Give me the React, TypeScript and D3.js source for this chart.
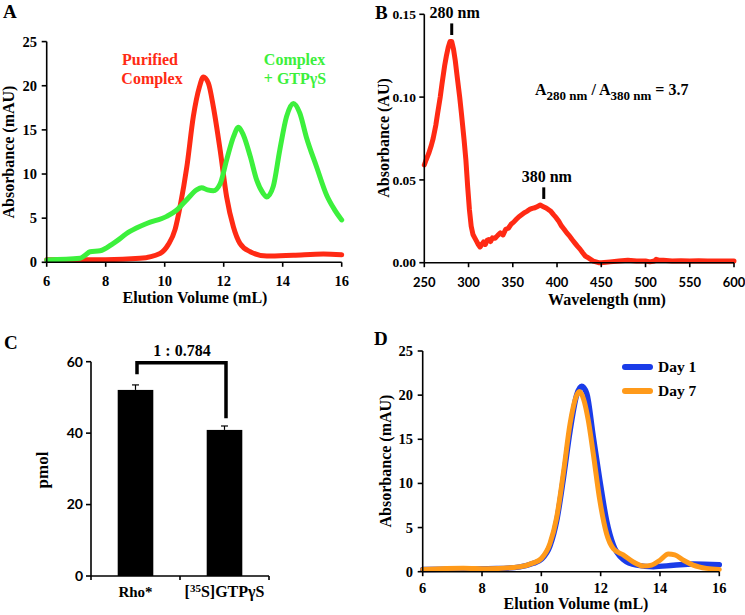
import React from "react";
import * as d3 from "d3";

const SERIF = "'Liberation Serif','Times New Roman',Times,serif";
const SANS = "Lato,'Open Sans',sans-serif";

// ---------- Panel A : size-exclusion chromatography ----------
const aPurified: [number, number][] = [
  [6, 0.3], [7, 0.3], [8, 0.3], [9.16, 0.45], [9.84, 1.0], [10.12, 2.0], [10.35, 3.7],
  [10.52, 6.3], [10.75, 10.8], [10.97, 16.5], [11.18, 19.9], [11.31, 21.0], [11.48, 20.3],
  [11.65, 17.6], [11.88, 12.7], [12.1, 7.4], [12.33, 4.0], [12.55, 2.15], [12.9, 1.2],
  [13.46, 0.7], [14.36, 0.8], [15.38, 0.95], [16, 0.85],
];
const aGtp: [number, number][] = [
  [6, 0.26], [7.13, 0.45], [7.3, 0.8], [7.47, 1.2], [7.81, 1.3], [8.26, 2.15], [8.82, 3.5],
  [9.39, 4.4], [10.07, 5.2], [10.4, 5.9], [10.75, 7.1], [11.08, 8.2], [11.25, 8.45],
  [11.45, 8.2], [11.65, 8.1], [11.88, 8.9], [12.1, 11.6], [12.33, 14.2], [12.5, 15.3],
  [12.67, 14.4], [12.9, 12.0], [13.12, 9.3], [13.34, 7.8], [13.46, 7.4], [13.68, 8.6],
  [13.9, 12.7], [14.13, 16.5], [14.36, 18.0], [14.58, 16.9], [14.8, 14.2], [15.15, 10.8],
  [15.49, 7.6], [15.75, 6.0], [16, 4.8],
];
const aXTicks = [6, 8, 10, 12, 14, 16];
const aYTicks = [0, 5, 10, 15, 20, 25];

// ---------- Panel B : absorbance spectrum ----------
const bSpectrum: [number, number][] = [
  [250, 0.059], [252, 0.062], [255, 0.066], [258, 0.071], [260, 0.075], [263, 0.083],
  [265, 0.09], [268, 0.1], [270, 0.108], [273, 0.119], [275, 0.125], [277, 0.13],
  [279, 0.1335], [281, 0.1335], [283, 0.129], [285, 0.122], [287, 0.113], [290, 0.1],
  [292, 0.09], [295, 0.074], [297, 0.062], [299, 0.046], [301, 0.032], [303, 0.022],
  [305, 0.017], [307, 0.015], [309, 0.013], [311, 0.011], [313, 0.0095], [315, 0.011],
  [317, 0.0125], [319, 0.011], [321, 0.0135], [323, 0.014], [325, 0.0128], [327, 0.015],
  [330, 0.0148], [333, 0.0165], [336, 0.018], [339, 0.0168], [342, 0.0202], [345, 0.0208],
  [348, 0.0232], [351, 0.0245], [354, 0.0262], [357, 0.0278], [360, 0.029], [363, 0.0302],
  [366, 0.031], [369, 0.0322], [372, 0.0328], [375, 0.0332], [378, 0.034], [381, 0.0348],
  [384, 0.034], [387, 0.0332], [390, 0.0322], [393, 0.031], [396, 0.029], [399, 0.0272],
  [402, 0.025], [405, 0.0222], [408, 0.0202], [411, 0.018], [414, 0.0162], [417, 0.014],
  [420, 0.012], [423, 0.01], [426, 0.0082], [429, 0.006], [432, 0.004], [435, 0.003],
  [438, 0.002], [441, 0.001], [444, 0.0005], [447, 0.0], [450, 0.0], [460, 0.0005],
  [470, 0.001], [480, 0.0015], [490, 0.001], [500, 0.001], [505, 0.0005], [510, 0.001],
  [512, 0.002], [515, 0.0015], [520, 0.0015], [530, 0.001], [540, 0.0012], [550, 0.001],
  [560, 0.0012], [570, 0.001], [580, 0.001], [590, 0.001], [600, 0.001],
];
const bXTicks = [250, 300, 350, 400, 450, 500, 550, 600];
const bYTicks = [0, 0.05, 0.1, 0.15];
const bPeakLabels = ["280 nm", "380 nm"];
const bPeakWavelengths = [281, 385];
const bPeakMarkTops = [0.1445, 0.0455];
const bPeakMarkBottoms = [0.1375, 0.0385];
const bPeakTextLevels = [0.1476, 0.0489];

// ---------- Panel C : bar chart ----------
const cCategories = ["Rho*", "[35S]GTPγS"];
const cValues = [52.1, 40.9];
const cErrors = [1.4, 1.1];
const cYTicks = [0, 20, 40, 60];
const cRatioLabel = "1 : 0.784";
const cBracketLevels = [56.5, 59.7, 44.2]; // left foot, top, right foot

// ---------- Panel D : chromatography, day 1 vs day 7 ----------
const dDay1: [number, number][] = [
  [6, 0.26], [7.5, 0.3], [8.5, 0.35], [9.28, 0.55], [9.73, 0.95], [10.0, 1.4], [10.29, 2.9],
  [10.52, 5.8], [10.74, 10.5], [10.97, 16.0], [11.19, 20.0], [11.36, 21.0], [11.53, 20.2],
  [11.75, 15.3], [11.97, 10.4], [12.2, 5.8], [12.43, 3.0], [12.76, 1.4], [13.21, 0.75],
  [13.78, 0.57], [14.45, 0.72], [15.12, 0.87], [16, 0.8],
];
const dDay7: [number, number][] = [
  [6, 0.26], [7.37, 0.4], [8.16, 0.34], [9.28, 0.57], [9.73, 1.0], [10.0, 1.5], [10.29, 3.2],
  [10.52, 6.2], [10.74, 11.1], [10.97, 16.8], [11.17, 19.8], [11.28, 20.4], [11.42, 19.6],
  [11.58, 17.2], [11.75, 13.4], [11.97, 8.1], [12.2, 4.3], [12.43, 2.6], [12.76, 1.9],
  [13.1, 1.1], [13.44, 0.64], [13.72, 0.75], [14.0, 1.3], [14.28, 2.0], [14.5, 1.9],
  [14.79, 1.3], [15.12, 0.75], [15.57, 0.38], [16, 0.26],
];
const dSeriesNames = ["Day 1", "Day 7"];
const dXTicks = [6, 8, 10, 12, 14, 16];
const dYTicks = [0, 5, 10, 15, 20, 25];

const RED = "#ff2a14";
const GREEN = "#3cf03c";
const BLUE = "#1a3ce8";
const ORANGE = "#ff9a1a";

type Pt = [number, number];

function Axes(props: {
  x: d3.ScaleLinear<number, number>;
  y: d3.ScaleLinear<number, number>;
  xTicks: number[];
  yTicks: number[];
  xFmt: (v: number) => string;
  yFmt: (v: number) => string;
  xFont: string;
  yFont: string;
  xSize: number;
  ySize: number;
  xLabelY: number;
  yLabelX: number;
}) {
  const { x, y, xTicks, yTicks } = props;
  const [x0, x1] = x.range();
  const [y0, y1] = y.range();
  return (
    <g>
      <line x1={x0} x2={x1} y1={y0} y2={y0} stroke="#000" strokeWidth={1.6} />
      <line x1={x0} x2={x0} y1={y0} y2={y1} stroke="#000" strokeWidth={1.6} />
      {xTicks.map((t) => (
        <g key={"x" + t}>
          <line x1={x(t)} x2={x(t)} y1={y0} y2={y0 + 4.5} stroke="#000" strokeWidth={1.6} />
          <text x={x(t)} y={props.xLabelY} textAnchor="middle" fontFamily={props.xFont}
            fontWeight="bold" fontSize={props.xSize}>{props.xFmt(t)}</text>
        </g>
      ))}
      {yTicks.map((t) => (
        <g key={"y" + t}>
          <line x1={x0 - 5} x2={x0} y1={y(t)} y2={y(t)} stroke="#000" strokeWidth={1.6} />
          <text x={props.yLabelX} y={y(t)} dy="0.35em" textAnchor="end" fontFamily={props.yFont}
            fontWeight="bold" fontSize={props.ySize}>{props.yFmt(t)}</text>
        </g>
      ))}
    </g>
  );
}

function PanelLetter({ x, y, t }: { x: number; y: number; t: string }) {
  return (
    <text x={x} y={y} fontFamily={SERIF} fontWeight="bold" fontSize={19}>{t}</text>
  );
}

function RotLabel({ x, y, t, size }: { x: number; y: number; t: string; size: number }) {
  return (
    <text transform={`translate(${x},${y}) rotate(-90)`} textAnchor="middle"
      fontFamily={SERIF} fontWeight="bold" fontSize={size}>{t}</text>
  );
}

export default function App() {
  // Panel A
  const ax = d3.scaleLinear().domain([6, 16]).range([46.7, 341.7]);
  const ay = d3.scaleLinear().domain([0, 25]).range([262.3, 41.6]);
  const lineA = d3.line<Pt>().x((d) => ax(d[0])).y((d) => ay(d[1])).curve(d3.curveMonotoneX);

  // Panel B
  const bx = d3.scaleLinear().domain([250, 600]).range([424.3, 734]);
  const by = d3.scaleLinear().domain([0, 0.15]).range([262.7, 14.3]);
  const lineB = d3.line<Pt>().x((d) => bx(d[0])).y((d) => by(d[1]));

  // Panel C
  const cx = d3.scaleBand<string>().domain(cCategories).range([91, 269]).paddingInner(0.6).paddingOuter(0.3);
  const cy = d3.scaleLinear().domain([0, 60]).range([576, 361.7]);
  const cxMid = (c: string) => (cx(c) as number) + cx.bandwidth() / 2;

  // Panel D
  const dx = d3.scaleLinear().domain([6, 16]).range([422.7, 719.3]);
  const dy = d3.scaleLinear().domain([0, 25]).range([571.7, 351]);
  const lineD = d3.line<Pt>().x((d) => dx(d[0])).y((d) => dy(d[1])).curve(d3.curveMonotoneX);

  const intFmt = d3.format("d");
  const b2 = d3.format(".2f");

  const bracketPath = d3.path();
  bracketPath.moveTo(cxMid(cCategories[0]) + 1.5, cy(cBracketLevels[0]));
  bracketPath.lineTo(cxMid(cCategories[0]) + 1.5, cy(cBracketLevels[1]));
  bracketPath.lineTo(cxMid(cCategories[1]) + 1.5, cy(cBracketLevels[1]));
  bracketPath.lineTo(cxMid(cCategories[1]) + 1.5, cy(cBracketLevels[2]));

  return (
    <svg width={745} height={615} viewBox="0 0 745 615"
      style={{ position: "absolute", left: 0, top: 0, background: "#fff" }}>
      <rect width={745} height={615} fill="#fff" />

      {/* ---------------- Panel A ---------------- */}
      <PanelLetter x={3} y={18} t="A" />
      <path d={lineA(aPurified) || ""} fill="none" stroke={RED} strokeWidth={5} strokeLinejoin="round" strokeLinecap="round" />
      <path d={lineA(aGtp) || ""} fill="none" stroke={GREEN} strokeWidth={5} strokeLinejoin="round" strokeLinecap="round" />
      <Axes x={ax} y={ay} xTicks={aXTicks} yTicks={aYTicks} xFmt={intFmt} yFmt={intFmt}
        xFont={SERIF} yFont={SERIF} xSize={14.5} ySize={14.5} xLabelY={286} yLabelX={37} />
      <text x={195} y={303} textAnchor="middle" fontFamily={SERIF} fontWeight="bold" fontSize={16}>Elution Volume (mL)</text>
      <RotLabel x={13.5} y={152} t="Absorbance (mAU)" size={16} />
      <text x={150} y={65} textAnchor="middle" fontFamily={SERIF} fontWeight="bold" fontSize={16} fill={RED}>Purified</text>
      <text x={152} y={84} textAnchor="middle" fontFamily={SERIF} fontWeight="bold" fontSize={16} fill={RED}>Complex</text>
      <text x={294.5} y={65} textAnchor="middle" fontFamily={SERIF} fontWeight="bold" fontSize={16} fill={GREEN}>Complex</text>
      <text x={295} y={84} textAnchor="middle" fontFamily={SERIF} fontWeight="bold" fontSize={16} fill={GREEN}>+ GTPγS</text>

      {/* ---------------- Panel B ---------------- */}
      <PanelLetter x={375} y={19} t="B" />
      <path d={lineB(bSpectrum) || ""} fill="none" stroke={RED} strokeWidth={5} strokeLinejoin="round" strokeLinecap="round" />
      <Axes x={bx} y={by} xTicks={bXTicks} yTicks={bYTicks} xFmt={intFmt} yFmt={b2}
        xFont={SANS} yFont={SERIF} xSize={13} ySize={13.5} xLabelY={287} yLabelX={416} />
      <text x={607} y={305} textAnchor="middle" fontFamily={SERIF} fontWeight="bold" fontSize={16}>Wavelength (nm)</text>
      <RotLabel x={389} y={138} t="Absorbance (AU)" size={16} />
      {bPeakLabels.map((l, i) => (
        <g key={l}>
          <line x1={bx(bPeakWavelengths[i])} x2={bx(bPeakWavelengths[i])} y1={by(bPeakMarkTops[i])}
            y2={by(bPeakMarkBottoms[i])} stroke="#000" strokeWidth={3} />
          <text x={bx(bPeakWavelengths[i]) + 3} y={by(bPeakTextLevels[i])} textAnchor="middle"
            fontFamily={SERIF} fontWeight="bold" fontSize={16}>{l}</text>
        </g>
      ))}
      <text x={535} y={95} fontFamily={SERIF} fontWeight="bold" fontSize={16}>
        A<tspan fontSize={13} dy={5}>280 nm</tspan><tspan dy={-5}> / A</tspan><tspan fontSize={13} dy={5}>380 nm</tspan><tspan dy={-5}> = 3.7</tspan>
      </text>

      {/* ---------------- Panel C ---------------- */}
      <PanelLetter x={4} y={349} t="C" />
      {cCategories.map((c, i) => (
        <g key={c}>
          <rect x={cx(c)} y={cy(cValues[i])} width={cx.bandwidth()} height={cy(0) - cy(cValues[i])} fill="#000" />
          <line x1={cxMid(c)} x2={cxMid(c)} y1={cy(cValues[i])} y2={cy(cValues[i] + cErrors[i])} stroke="#000" strokeWidth={1.2} />
          <line x1={cxMid(c) - 3.5} x2={cxMid(c) + 3.5} y1={cy(cValues[i] + cErrors[i])} y2={cy(cValues[i] + cErrors[i])} stroke="#000" strokeWidth={1.2} />
        </g>
      ))}
      <line x1={91} x2={269} y1={cy(0)} y2={cy(0)} stroke="#000" strokeWidth={1.6} />
      <line x1={91} x2={91} y1={cy(0)} y2={cy(60)} stroke="#000" strokeWidth={1.6} />
      {[91, 180, 269].map((t) => (
        <line key={t} x1={t} x2={t} y1={cy(0)} y2={cy(0) + 4} stroke="#000" strokeWidth={1.6} />
      ))}
      {cYTicks.map((t) => (
        <g key={t}>
          <line x1={86} x2={91} y1={cy(t)} y2={cy(t)} stroke="#000" strokeWidth={1.6} />
          <text x={83} y={cy(t)} dy="0.35em" textAnchor="end" fontFamily={SANS} fontWeight="bold" fontSize={14}>{intFmt(t)}</text>
        </g>
      ))}
      <text x={cxMid(cCategories[0])} y={597} textAnchor="middle" fontFamily={SERIF} fontWeight="bold" fontSize={15}>{cCategories[0]}</text>
      <text x={cxMid(cCategories[1])} y={597} textAnchor="middle" fontFamily={SERIF} fontWeight="bold" fontSize={16}>
        [<tspan fontSize={11} dy={-5}>35</tspan><tspan dy={5}>S]GTPγS</tspan>
      </text>
      <RotLabel x={48} y={470} t="pmol" size={17} />
      <path d={bracketPath.toString()} fill="none" stroke="#000" strokeWidth={3.5} strokeLinejoin="miter" />
      <text x={182} y={356} textAnchor="middle" fontFamily={SERIF} fontWeight="bold" fontSize={16}>{cRatioLabel}</text>

      {/* ---------------- Panel D ---------------- */}
      <PanelLetter x={374} y={345} t="D" />
      <path d={lineD(dDay1) || ""} fill="none" stroke={BLUE} strokeWidth={5.5} strokeLinejoin="round" strokeLinecap="round" />
      <path d={lineD(dDay7) || ""} fill="none" stroke={ORANGE} strokeWidth={5} strokeLinejoin="round" strokeLinecap="round" />
      <Axes x={dx} y={dy} xTicks={dXTicks} yTicks={dYTicks} xFmt={intFmt} yFmt={intFmt}
        xFont={SERIF} yFont={SERIF} xSize={14.5} ySize={14.5} xLabelY={593} yLabelX={413} />
      <text x={576} y={609} textAnchor="middle" fontFamily={SERIF} fontWeight="bold" fontSize={16}>Elution Volume (mL)</text>
      <RotLabel x={391} y={461} t="Absorbance (mAU)" size={16} />
      {dSeriesNames.map((n, i) => (
        <g key={n}>
          <line x1={625} x2={650} y1={367 + i * 24} y2={367 + i * 24} stroke={i === 0 ? BLUE : ORANGE}
            strokeWidth={6} strokeLinecap="round" />
          <text x={658} y={367 + i * 24} dy="0.35em" fontFamily={SERIF} fontWeight="bold" fontSize={15.5}>{n}</text>
        </g>
      ))}
    </svg>
  );
}
